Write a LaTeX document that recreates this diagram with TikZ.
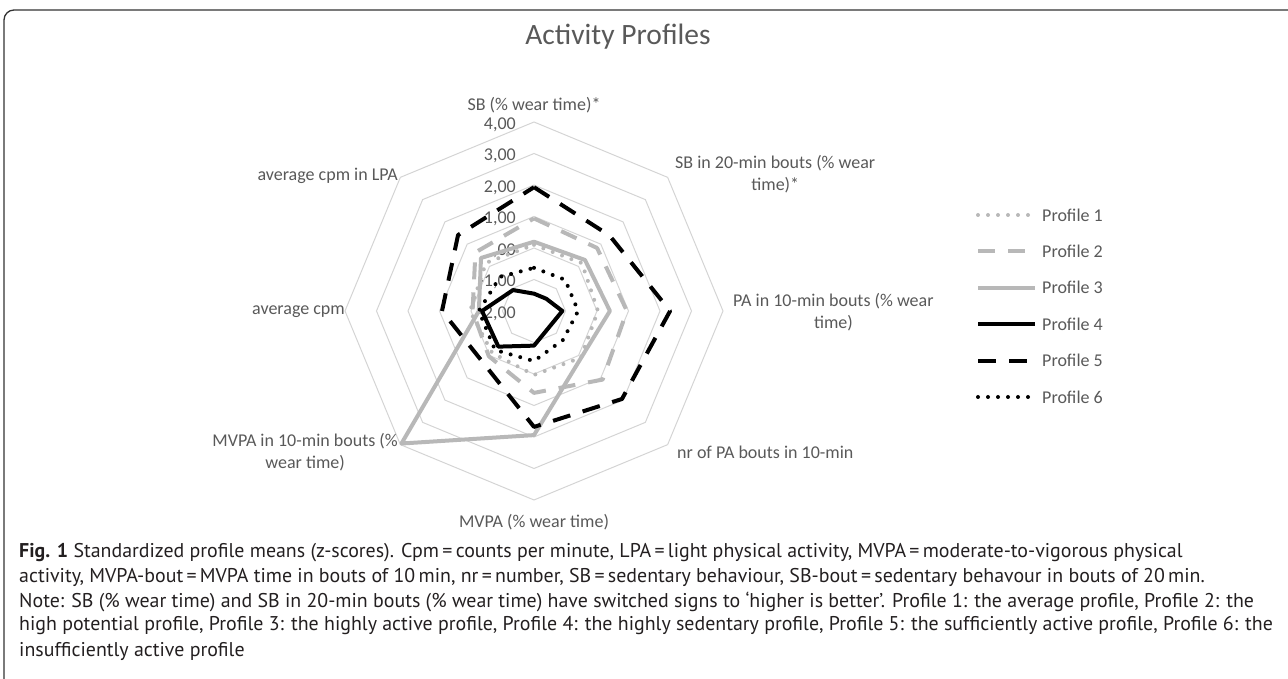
\documentclass[tikz,border=0pt]{standalone}
\usepackage{fontspec}
\setmainfont{Carlito}
\newfontfamily\capfont{PT Sans}
\usetikzlibrary{positioning}

\definecolor{gridgray}{HTML}{D4D4D4}
\definecolor{labelgray}{HTML}{595959}
\definecolor{linegray}{HTML}{B8B8B8}
\definecolor{captext}{HTML}{231F20}
\newcommand\runit{31.5}

\begin{document}
\begin{tikzpicture}[x=1pt, y=1pt,
  ring/.style={draw=gridgray, line width=1pt},
  axislabel/.style={text=labelgray, font=\fontsize{18}{22}\selectfont, align=center, inner sep=0pt},
  ticklabel/.style={text=labelgray, font=\fontsize{18}{22}\selectfont, anchor=east, inner sep=0pt},
  prof/.style={line width=4pt, line join=round},
  pone/.style={prof, draw=linegray, line cap=round, dash pattern=on 0pt off 10pt},
  ptwo/.style={prof, draw=linegray, dash pattern=on 17pt off 13pt},
  pthree/.style={prof, draw=linegray},
  pfour/.style={prof, draw=black},
  pfive/.style={prof, draw=black, dash pattern=on 18pt off 13pt},
  psix/.style={prof, draw=black, line cap=round, dash pattern=on 0pt off 10pt},
  caption/.style={anchor=west, inner sep=0pt, text=captext, font=\capfont\fontsize{19.9}{24}\selectfont}]

  \useasboundingbox (0,0) rectangle (1288,679);
  \draw[line width=1.3pt, draw=black!80, rounded corners=10pt] (4,-5) -- (4,669) -- (1295,669);

  \node (title) [text=labelgray, font=\fontsize{29.5}{33}\selectfont] at (618,642) {Activity Profiles};

  % radar grid and data
  \begin{scope}[shift={(534,368)}]
    \foreach \l in {1,...,6}
      \draw[ring] (90:{\l*\runit}) \foreach \k in {1,...,7} { -- ({90-45*\k}:{\l*\runit}) } -- cycle;

    \foreach \l/\t in {0/{-2,00}, 1/{-1,00}, 2/{,00}, 3/{1,00}, 4/{2,00}, 5/{3,00}, 6/{4,00}}
      \node (tick\l) [ticklabel] at (-18,{\l*\runit-2.5}) {\t};

    \draw[pone] (90:{(0.10+2)*\runit}) \foreach \v [count=\k] in {0.15,0.03,0.10,0.03,-0.12,0.03,0.16} { -- ({90-45*\k}:{(\v+2)*\runit}) } -- cycle;
    \draw[ptwo] (90:{(0.94+2)*\runit}) \foreach \v [count=\k] in {0.83,0.95,1.08,0.60,0.03,-0.05,0.63} { -- ({90-45*\k}:{(\v+2)*\runit}) } -- cycle;
    \draw[pthree] (90:{(0.20+2)*\runit}) \foreach \v [count=\k] in {0.29,0.41,0.11,1.94,3.95,-0.25,0.38} { -- ({90-45*\k}:{(\v+2)*\runit}) } -- cycle;
    \draw[pfour] (90:{(-1.45+2)*\runit}) \foreach \v [count=\k] in {-1.45,-1.10,-1.30,-0.90,-0.40,-0.35,-1.06} { -- ({90-45*\k}:{(\v+2)*\runit}) } -- cycle;
    \draw[pfive] (90:{(1.93+2)*\runit}) \foreach \v [count=\k] in {1.39,2.32,1.95,1.68,0.30,0.92,1.41} { -- ({90-45*\k}:{(\v+2)*\runit}) } -- cycle;
    \draw[psix] (90:{(-0.63+2)*\runit}) \foreach \v [count=\k] in {-0.60,-0.60,-0.70,-0.41,-0.25,-0.25,-0.47} { -- ({90-45*\k}:{(\v+2)*\runit}) } -- cycle;
  \end{scope}

  % category labels
  \node (sb) [axislabel] at (534,574) {SB (\% wear time)*};
  \node (sbbout) [axislabel, anchor=west] at (675,505) {SB in 20-min bouts (\% wear\\time)*};
  \node (pabout) [axislabel, anchor=west] at (733,367) {PA in 10-min bouts (\% wear\\time)};
  \node (nrpa) [axislabel, anchor=west] at (677,227) {nr of PA bouts in 10-min};
  \node (mvpa) [axislabel] at (534,157) {MVPA (\% wear time)};
  \node (mvpabout) [axislabel, anchor=east] at (398,227) {MVPA in 10-min bouts (\%\\wear time)};
  \node (cpm) [axislabel, anchor=east] at (345,367) {average cpm};
  \node (cpmlpa) [axislabel, anchor=east] at (398,503) {average cpm in LPA};

  % legend
  \foreach \s/\n [count=\i] in {pone/1, ptwo/2, pthree/3, pfour/4, pfive/5, psix/6} {
    \draw[\s] (978,{464-36.4*(\i-1)}) -- ++(57,0);
    \node (leg\n) [axislabel, anchor=west] at (1042,{464-36.4*(\i-1)}) {Profile \n};
  }

  % caption
  \node (cap1) [caption] at (19,126.5) {\textbf{Fig. 1} Standardized profile means (z-scores). Cpm\,=\,counts per minute, LPA\,=\,light physical activity, MVPA\,=\,moderate-to-vigorous physical};
  \node (cap2) [caption] at (19,101.5) {activity, MVPA-bout\,=\,MVPA time in bouts of 10\,min, nr\,=\,number, SB\,=\,sedentary behaviour, SB-bout\,=\,sedentary behavour in bouts of 20\,min.};
  \node (cap3) [caption] at (19,77.3) {Note: SB (\% wear time) and SB in 20-min bouts (\% wear time) have switched signs to ‘higher is better’. Profile 1: the average profile, Profile 2: the};
  \node (cap4) [caption] at (19,53) {high potential profile, Profile 3: the highly active profile, Profile 4: the highly sedentary profile, Profile 5: the sufficiently active profile, Profile 6: the};
  \node (cap5) [caption] at (19,27.3) {insufficiently active profile};
\end{tikzpicture}
\end{document}
